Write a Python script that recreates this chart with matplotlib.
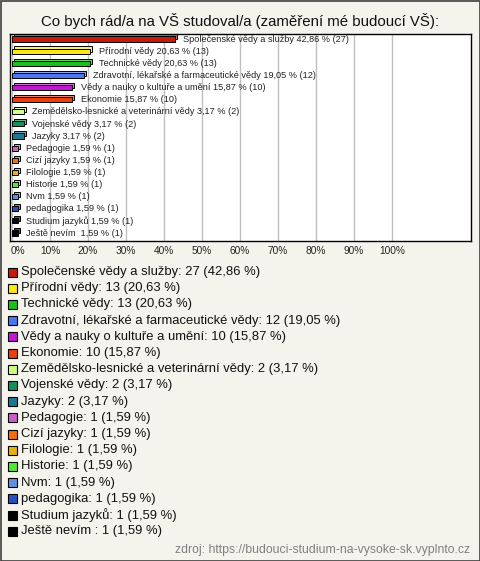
import numpy as np
import matplotlib.pyplot as plt
from matplotlib.patches import Rectangle

plt.rcParams['font.family'] = ['Liberation Sans', 'DejaVu Sans']

names = ['Společenské vědy a služby', 'Přírodní vědy', 'Technické vědy',
         'Zdravotní, lékařské a farmaceutické vědy', 'Vědy a nauky o kultuře a umění',
         'Ekonomie', 'Zemědělsko-lesnické a veterinární vědy', 'Vojenské vědy', 'Jazyky',
         'Pedagogie', 'Cizí jazyky', 'Filologie', 'Historie', 'Nvm', 'pedagogika',
         'Studium jazyků', 'Ještě nevím ']
counts = [27, 13, 13, 12, 10, 10, 2, 2, 2, 1, 1, 1, 1, 1, 1, 1, 1]
percents = [42.86, 20.63, 20.63, 19.05, 15.87, 15.87, 3.17, 3.17, 3.17,
            1.59, 1.59, 1.59, 1.59, 1.59, 1.59, 1.59, 1.59]
colors = ['#c41a10', '#f8e818', '#18c018', '#4a78f0', '#c018d0', '#e84010',
          '#d0ff80', '#10905a', '#1a7890', '#c860c8', '#f07010', '#e8b010',
          '#50e838', '#6090e0', '#2850b8', '#000000', '#000000']
ticks = np.arange(0, 101, 10)

def fmt(v):
    return ('%.2f' % v).replace('.', ',')

def lighten(c, f=0.35):
    rgb = np.array(plt.matplotlib.colors.to_rgb(c))
    return tuple(rgb + (1 - rgb) * f)

W, H = 480, 561
fig = plt.figure(figsize=(W / 100, H / 100), dpi=100)
fig.patch.set_facecolor('#f4f3ec')
fig.patches.append(Rectangle((0.5 / W, 0.5 / H), 1 - 1 / W, 1 - 1 / H, transform=fig.transFigure,
                             fill=False, edgecolor='#404040', lw=1.2))

fig.text(0.5, 1 - 21 / H, 'Co bych rád/a na VŠ studoval/a (zaměření mé budoucí VŠ):',
         ha='center', va='center', fontsize=10.8, color='#111111')

ax = fig.add_axes([10 / W, 1 - 241 / H, 461 / W, 207 / H])
ax.set_facecolor('white')
y = np.arange(len(names))
dx, dy = 0.55, 0.17
bh = 0.42
for i in range(len(names)):
    ax.barh(y[i] - dy, percents[i], left=dx, height=bh, color=lighten(colors[i]),
            edgecolor='black', lw=0.7, zorder=2)
    ax.barh(y[i], percents[i], height=bh, color=colors[i], edgecolor='black', lw=0.7, zorder=3)
    ax.text(percents[i] + 2.2, y[i] + 0.02, '%s %s %% (%d)' % (names[i], fmt(percents[i]), counts[i]),
            va='center', ha='left', fontsize=6.6, color='#222222', zorder=4)

ax.set_xlim(-0.5, 120.8)
ax.set_ylim(16.66, -0.41)
ax.set_xticks(ticks)
ax.grid(axis='x', color='#c0c0c0', lw=1, zorder=0)
ax.tick_params(length=0, labelbottom=False, labelleft=False)
for s in ax.spines.values():
    s.set_color('black')
    s.set_linewidth(1)
for t in ticks:
    xx = 12 + t * 3.8 + (6 if t == 0 else 0)
    fig.text(xx / W, 1 - 251 / H, '%d%%' % t, ha='center', va='center', fontsize=7.3, color='#222222')

for i in range(len(names)):
    yc = 272 + i * 16.2
    fig.patches.append(Rectangle((7.5 / W, 1 - (yc + 4.5) / H), 9 / W, 9 / H, transform=fig.transFigure,
                                 facecolor=colors[i], edgecolor='black', lw=0.8))
    fig.text(21 / W, 1 - yc / H, '%s: %d (%s %%)' % (names[i], counts[i], fmt(percents[i])),
             ha='left', va='center', fontsize=9.4, color='#111111')

fig.text(470 / W, 1 - 550 / H, 'zdroj: https://budouci-studium-na-vysoke-sk.vyplnto.cz',
         ha='right', va='center', fontsize=8.8, color='#808080')

fig.savefig('out.png', dpi=100, facecolor=fig.get_facecolor())
